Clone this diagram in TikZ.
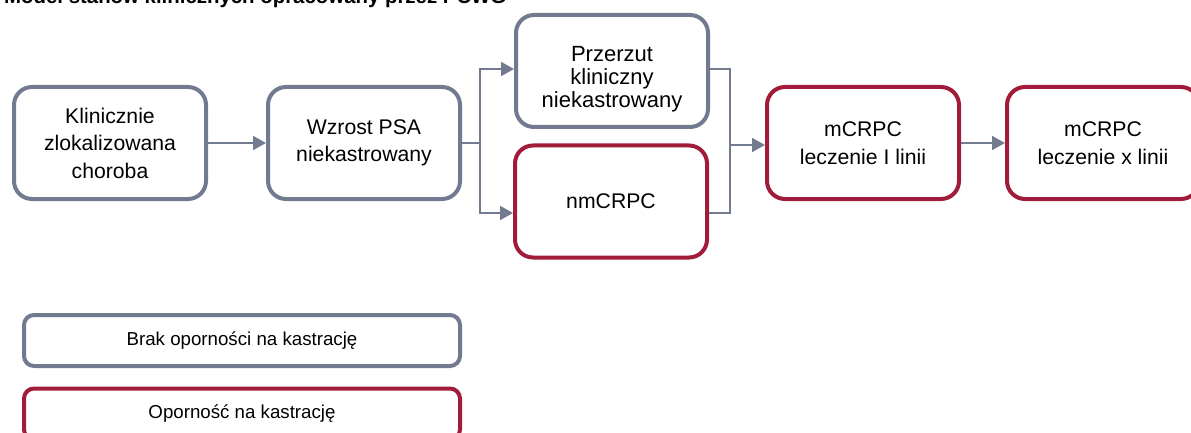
\documentclass[tikz,border=0pt]{standalone}
\usepackage{fontspec}
\setmainfont{Liberation Sans}
\usetikzlibrary{arrows.meta}
\definecolor{bgray}{RGB}{114,122,143}
\definecolor{bred}{RGB}{160,28,58}
\begin{document}
\begin{tikzpicture}[x=1pt,y=-1pt,
  box/.style={draw, line width=4pt, rounded corners=18pt, fill=white,
    minimum width=192pt, minimum height=112pt, align=center, inner sep=2pt,
    font=\fontsize{21.2}{27.5}\selectfont, text=black},
  gbox/.style={box, draw=bgray},
  rbox/.style={box, draw=bred},
  conn/.style={draw=bgray, line width=2pt},
  arr/.style={conn, -{Triangle[length=13pt,width=14pt]}},
  legend/.style={draw, line width=4pt, rounded corners=10pt, fill=white,
    minimum width=436pt, minimum height=51pt, inner sep=2pt,
    font=\fontsize{18.7}{22}\selectfont, text=black}
]
\useasboundingbox (0,0) rectangle (1191,433);
\clip (0,0) rectangle (1191,433);
\fill[white] (0,0) rectangle (1191,433);

\node[anchor=base west, inner sep=0pt, font=\bfseries\fontsize{20.4}{24}\selectfont] (title) at (4,4)
  {Model stanów klinicznych opracowany przez PCWG};

\node[gbox] (A) at (110,143) {Klinicznie\\zlokalizowana\\choroba};
\node[gbox] (B) at (364,143) {Wzrost PSA\\niekastrowany};
\node[gbox, font=\fontsize{22}{23}\selectfont] (C) at (612,71)
  {\rule{0pt}{32pt}Przerzut\\kliniczny\\niekastrowany};
\node[rbox] (D) at (611,201.5) {nmCRPC};
\node[rbox] (E) at (863,143) {mCRPC\\leczenie I linii};
\node[rbox] (F) at (1103,143) {mCRPC\\leczenie x linii};

\coordinate (jl) at (480,143);
\coordinate (jr) at (730,145);

\draw[arr] (A.east) -- (B.west);
\draw[conn] (B.east) -- (jl);
\draw[arr] (jl) |- ([yshift=2pt]C.west);
\draw[arr] (jl) |- ([yshift=-11.5pt]D.west);
\draw[conn] ([yshift=2pt]C.east) -| (jr);
\draw[conn] ([yshift=-11.5pt]D.east) -| (jr);
\draw[arr] (jr) -- (jr -| E.west);
\draw[arr] (E.east) -- (F.west);

\node[legend, draw=bgray] (L1) at (242,340.5) {Brak oporności na kastrację};
\node[legend, draw=bred] (L2) at (242,414) {Oporność na kastrację};
\end{tikzpicture}
\end{document}
